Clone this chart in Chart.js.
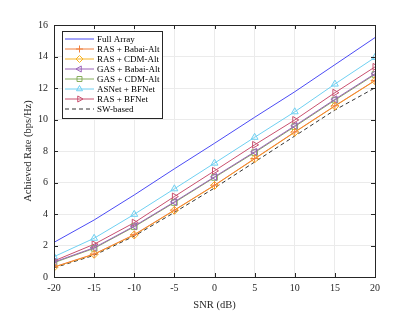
<!DOCTYPE html>
<html><head><meta charset="utf-8">
<script src="https://cdn.jsdelivr.net/npm/chart.js@4/dist/chart.umd.min.js"></script>
<style>html,body{margin:0;padding:0;background:#fff}#wrap{width:415px;height:312px}</style>
</head><body><div id="wrap"><canvas id="c" width="415" height="312"></canvas></div>
<script>
const snr = [-20,-15,-10,-5,0,5,10,15,20];
const xTicks = [-20,-15,-10,-5,0,5,10,15,20];
const yTicks = [0,2,4,6,8,10,12,14,16];
const fullArray = [2.20,3.62,5.21,6.87,8.49,10.14,11.76,13.48,15.20];
const rasBabai  = [0.64,1.46,2.69,4.25,5.83,7.52,9.21,10.87,12.48];
const rasCdm    = [0.62,1.44,2.67,4.23,5.81,7.50,9.19,10.85,12.46];
const gasBabai  = [0.95,1.86,3.23,4.77,6.36,7.95,9.60,11.28,12.91];
const gasCdm    = [0.91,1.82,3.19,4.73,6.32,7.90,9.55,11.23,12.86];
const asnet     = [1.29,2.46,3.98,5.60,7.23,8.87,10.49,12.25,13.94];
const rasBfnet  = [1.02,2.08,3.45,5.11,6.74,8.39,9.97,11.70,13.34];
const swBased   = [0.58,1.38,2.60,4.10,5.65,7.30,8.95,10.60,12.01];

const pts = a => snr.map((x,i)=>({x:x,y:a[i]}));
function ds(label, data, color, style, rot, dash){
  return {label, data: pts(data), borderColor: color, backgroundColor: 'rgba(0,0,0,0)',
    borderWidth: 1, pointStyle: style || false, pointRotation: rot||0, pointRadius: style?4:0,
    pointBorderWidth: 1, pointBorderColor: color, pointBackgroundColor: 'rgba(0,0,0,0)',
    borderDash: dash||[], tension: 0};
}
const datasets = [
  ds('Full Array', fullArray, '#4b4bf5', null),
  ds('RAS + Babai-Alt', rasBabai, '#f07f3c', 'cross'),
  ds('RAS + CDM-Alt', rasCdm, '#f5b324', 'rectRot'),
  ds('GAS + Babai-Alt', gasBabai, '#9b63b8', 'triangle', -90),
  ds('GAS + CDM-Alt', gasCdm, '#86ad5a', 'rect'),
  ds('ASNet + BFNet', asnet, '#6fd0f2', 'triangle'),
  ds('RAS + BFNet', rasBfnet, '#c9506f', 'triangle', 90),
  ds('SW-based', swBased, '#333333', null, 0, [4,3])
];

const FONT = "'Liberation Serif','Times New Roman',serif";

const inTicks = {
  id: 'inTicks',
  afterDatasetsDraw(chart){
    const {ctx, chartArea:a, scales:{x,y}} = chart;
    ctx.save();
    ctx.strokeStyle = '#262626'; ctx.lineWidth = 1;
    ctx.beginPath();
    xTicks.forEach(v=>{ const px = Math.round(x.getPixelForValue(v))+0.5;
      ctx.moveTo(px,a.bottom); ctx.lineTo(px,a.bottom-4);
      ctx.moveTo(px,a.top); ctx.lineTo(px,a.top+4); });
    yTicks.forEach(v=>{ const py = Math.round(y.getPixelForValue(v))+0.5;
      ctx.moveTo(a.left,py); ctx.lineTo(a.left+4,py);
      ctx.moveTo(a.right,py); ctx.lineTo(a.right-4,py); });
    ctx.stroke();
    ctx.strokeRect(Math.round(a.left)+0.5, Math.round(a.top)+0.5, Math.round(a.right-a.left), Math.round(a.bottom-a.top));
    ctx.restore();
  }
};

const boxLegend = {
  id: 'boxLegend',
  afterDraw(chart){
    const ctx = chart.ctx;
    const bx = 62, by = 31, bw = 100, bh = 87, rowH = 10;
    ctx.save();
    ctx.fillStyle = '#fff';
    ctx.fillRect(bx, by, bw, bh);
    ctx.strokeStyle = '#262626'; ctx.lineWidth = 1;
    ctx.strokeRect(bx+0.5, by+0.5, bw, bh);
    ctx.font = '9px ' + FONT;
    ctx.textBaseline = 'middle';
    chart.data.datasets.forEach((d,i)=>{
      const yy = by + 8 + i*rowH;
      ctx.strokeStyle = d.borderColor; ctx.lineWidth = 1;
      ctx.setLineDash(d.borderDash||[]);
      ctx.beginPath(); ctx.moveTo(bx+3, yy); ctx.lineTo(bx+32, yy); ctx.stroke();
      ctx.setLineDash([]);
      if (d.pointStyle){
        ctx.strokeStyle = d.borderColor;
        ctx.fillStyle = 'rgba(0,0,0,0)';
        Chart.helpers.drawPoint(ctx, {pointStyle: d.pointStyle, rotation: d.pointRotation, radius: 3.5, borderWidth: 1}, bx+17.5, yy);
      }
      ctx.fillStyle = '#000';
      ctx.fillText(d.label, bx+35, yy+0.5);
    });
    ctx.restore();
  }
};

new Chart(document.getElementById('c'), {
  type: 'line',
  data: { datasets },
  options: {
    responsive: false, animation: false, devicePixelRatio: 1,
    layout: { padding: { left: 0, right: 40, top: 25, bottom: 0 } },
    plugins: { legend: { display: false }, tooltip: { enabled: false } },
    scales: {
      x: {
        type: 'linear', min: -20, max: 20,
        afterBuildTicks: s => { s.ticks = xTicks.map(v=>({value:v})); },
        afterFit: s => { s.height = 35; },
        grid: { color: '#ebebeb', drawTicks: false },
        border: { display: false },
        ticks: { color: '#262626', font: { family: FONT, size: 10 }, padding: 5 },
        title: { display: true, text: 'SNR (dB)', color: '#262626', font: { family: FONT, size: 10.5 }, padding: { top: 0, bottom: 0 } }
      },
      y: {
        min: 0, max: 16,
        afterBuildTicks: s => { s.ticks = yTicks.map(v=>({value:v})); },
        afterFit: s => { s.width = 54; },
        grid: { color: '#ebebeb', drawTicks: false },
        border: { display: false },
        ticks: { color: '#262626', font: { family: FONT, size: 10 }, padding: 6 },
        title: { display: true, text: 'Achieved Rate (bps/Hz)', color: '#262626', font: { family: FONT, size: 10.5 }, padding: { top: 22, bottom: 0 } }
      }
    }
  },
  plugins: [inTicks, boxLegend]
});
</script>
</body></html>
